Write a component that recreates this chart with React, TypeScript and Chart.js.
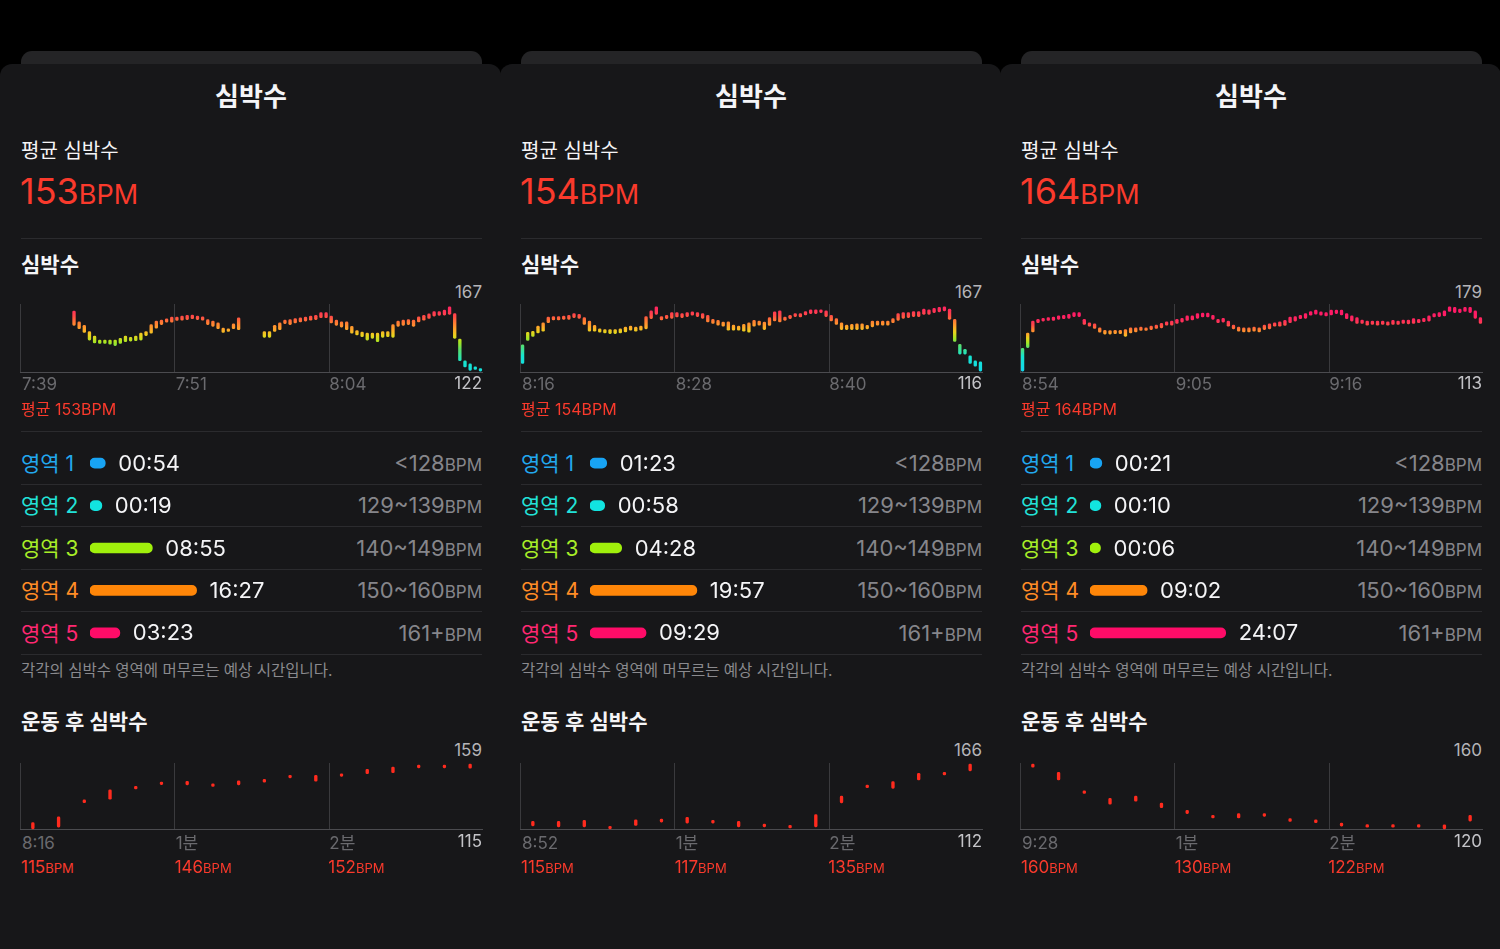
import React, { useEffect, useRef } from "react";
import { Chart, registerables } from "chart.js";

Chart.register(...registerables);

const FONT = 'Inter, "Noto Sans CJK KR", sans-serif';
const RED = "#fa3a2c";

// ---------- data ----------
const panelTitles = ["심박수", "심박수", "심박수"];
const avgBpm = [153, 154, 164];

const hrTimeLabels = [
  ["7:39", "7:51", "8:04"],
  ["8:16", "8:28", "8:40"],
  ["8:54", "9:05", "9:16"],
];
const hrMaxLabels = [167, 167, 179];
const hrMinLabels = [122, 116, 113];

type R = [number, number] | null;

const hrSeries1: R[] = [
  null, null, null, null, null, null, null, null, null, null,
  [154, 164], [151.6, 156.4], [149, 154], [143.7, 149.7], [141.7, 146.5], [141.3, 143.7], [141.3, 143.7], [140.8, 143.7], [139.8, 143.7], [141.3, 144.9],
  [142.5, 146.5], [143, 145.6], [143.2, 146.5], [143.7, 148.5], [146.8, 149.7], [148.5, 154.5], [152, 157], [154.5, 157.6], [156.2, 158.6], [156.2, 159.8],
  [157.4, 159.8], [157.6, 160.5], [158, 161], [158.6, 161.2], [158, 160.5], [157.6, 160], [154.5, 158], [153.3, 157], [151.6, 155.7], [149, 152],
  [149.7, 151.4], [151.6, 155], [150.9, 159.3],
  null, null, null, null,
  [145.6, 149.7], [145.6, 149.7], [149.7, 154], [150.9, 155.7], [155.2, 157.6], [154.5, 158], [155.7, 158.8], [156.4, 159.3], [157, 159.8], [157.6, 160.5],
  [158, 161], [159.3, 162.9], [159.3, 162.9], [155.7, 160.5], [154, 157.6], [152.8, 156.4], [150.9, 156.4], [148.5, 153.3], [147.3, 150.4], [146, 149.2],
  [143.7, 148.5], [144.9, 148.5], [142.5, 148.5], [145.6, 149.7], [146, 149.7], [145.6, 154.5], [153.3, 156.9], [154, 157.6], [154.5, 158], [153.3, 157.6],
  [156.4, 160], [157.6, 161], [158.8, 162], [160.5, 163.6], [161, 163.6], [161.2, 164.6], [161.7, 167], [144.9, 162.2], [129.2, 144.4], [124.9, 129.2],
  [122.5, 127], [123.2, 124.9], [122, 123.2],
];

const hrSeries2: R[] = [
  [122, 136.8], [140.3, 146.8], [143.5, 147.6], [146.2, 151.6], [147.6, 154.3], [154.3, 158.9], [156.5, 159.2], [156.5, 159.2], [157, 159.7], [157, 160.3],
  [158.4, 161.6], [157.8, 161], [153, 158.4], [147.6, 155.7], [147.6, 152.2], [146.8, 149.5], [146.2, 148.9], [145.7, 148.9], [145.7, 148.9], [146.2, 149.5],
  [147, 150.8], [148.4, 151.6], [147.6, 150.8], [148.4, 151.6], [149.5, 159.2], [157.6, 163.8], [161, 167], [156.5, 159.2], [157.6, 160.3], [157.8, 162.4],
  [158.9, 162.4], [158.4, 161.6], [159.2, 162.4], [160.3, 163], [159.2, 162.4], [157.8, 161.6], [154.9, 160.3], [153.8, 157], [152.4, 156.2], [151.6, 154.9],
  [148.4, 155.1], [148.4, 152.4], [148.4, 151.6], [147.6, 153], [146.8, 154.3], [151.6, 156.2], [152.4, 155.7], [148.9, 154.9], [152.2, 158.4], [155.7, 163],
  [154.9, 163.8], [156.2, 158.9], [157.6, 160.3], [159.2, 161.6], [158.9, 161.6], [160.5, 163.2], [161.6, 164.6], [161.6, 164.6], [162.4, 164.6], [159.2, 163.8],
  [155.7, 160.3], [153, 157.6], [148.9, 154.3], [148.9, 152.4], [148.9, 153], [148.9, 153.5], [148.9, 153.5], [149.5, 152.2], [151.1, 155.7], [152.4, 155.7],
  [152.4, 155.7], [152.4, 155.7], [154.3, 157.6], [156.2, 161.6], [157.8, 162.4], [158.4, 162.4], [159.2, 163.2], [159.2, 163.2], [161, 165.1], [161, 164.6],
  [162.4, 165.7], [163, 166.5], [163.8, 167], [157, 165.1], [139.5, 157], [129.5, 137.3], [129.5, 133.3], [122, 128.1], [119.8, 124.1], [116, 123.3],
];

const hrSeries3: R[] = [
  [113, 136.4], [137.1, 152.1], [153.2, 164.3], [162.6, 166.1], [164.3, 167.1], [165, 167.8], [165, 168.5], [166.1, 169.6], [166.8, 170.3], [167.1, 171.3],
  [168.9, 173], [168.9, 173], [160.8, 166.1], [159.1, 162.6], [156.7, 161.5], [152.8, 157.4], [151, 154.9], [151, 154.6], [151.4, 154.9], [151.4, 154.9],
  [148.6, 155.6], [152.1, 157.4], [153.2, 157.4], [154.6, 158.1], [154.6, 157.4], [155.6, 159.1], [156.7, 160.1], [157.4, 161.9], [160.1, 163.6], [160.1, 164.3],
  [161.9, 166.1], [163.3, 167.1], [165, 169.6], [165.4, 169.6], [167.1, 172], [168.5, 172.4], [168.5, 172.4], [166.1, 170.3], [162.6, 166.1], [163.3, 167.1],
  [159.1, 164.3], [156.3, 160.1], [153.9, 158.1], [153.2, 157.4], [153.2, 157.4], [153.9, 158.1], [153.2, 157.4], [155.6, 160.1], [156.3, 161.5], [159.1, 162.6],
  [159.1, 163.6], [159.8, 165], [162.6, 168.5], [164.3, 168.9], [166.8, 170.3], [167.1, 172], [170.3, 174.1], [171.3, 175.5], [170.3, 173.8], [169.6, 173],
  [170.6, 175.5], [172, 175.5], [170.6, 175.5], [166.8, 172], [164.3, 169.6], [161.9, 167.8], [161.9, 165.4], [160.1, 164.3], [160.8, 164.3], [160.1, 164.3],
  [160.8, 164.3], [160.1, 163.6], [160.8, 165], [160.8, 164.3], [161.9, 165.4], [161.5, 165.4], [161.9, 166.8], [162.6, 166.1], [163.6, 167.1], [164.3, 169.6],
  [168.5, 172], [168.9, 173], [169.6, 174.8], [174.1, 179], [173, 178.3], [173, 176.6], [174.1, 178.3], [173, 178.3], [167.1, 174.8], [161.9, 167.8],
];

const zoneNames = ["영역 1", "영역 2", "영역 3", "영역 4", "영역 5"];
const zoneRanges = ["<128", "129~139", "140~149", "150~160", "161+"];
const zoneTimes1 = ["00:54", "00:19", "08:55", "16:27", "03:23"];
const zoneTimes2 = ["01:23", "00:58", "04:28", "19:57", "09:29"];
const zoneTimes3 = ["00:21", "00:10", "00:06", "09:02", "24:07"];

const postTimeLabels = [
  ["8:16", "1분", "2분"],
  ["8:52", "1분", "2분"],
  ["9:28", "1분", "2분"],
];
const postMaxLabels = [159, 166, 160];
const postMinLabels = [115, 112, 120];
const postMarkers = [
  [115, 146, 152],
  [115, 117, 135],
  [160, 130, 122],
];

const postSeries1: R[] = [
  [115, 119.2], [116.2, 123.1], [132.8, 134.7], [135.1, 141.6], [142.1, 143.5], [145.1, 146.7], [144.9, 147.4], [143.9, 145.6], [144.9, 147.7],
  [146.7, 148.6], [149.7, 151.4], [147.4, 151.4], [150.7, 152.5], [152.5, 155.5], [153.2, 157.1], [156.5, 158.3], [156.5, 158.3], [156.2, 159],
];
const postSeries2: R[] = [
  [114.5, 118.2], [113.7, 118.2], [113.7, 119], [112, 114], [114.8, 119.6], [117.6, 120.2], [116.8, 121.6], [116.8, 119], [113.7, 118.2],
  [113.7, 115.9], [112.8, 114.8], [113.7, 123.8], [133.7, 139.3], [146.3, 148.6], [145.8, 151.4], [152.8, 158.4], [157, 159.2], [160.4, 166],
];
const postSeries3: R[] = [
  [158.1, 160], [150.2, 155], [141.9, 143.5], [135.2, 138.8], [137.1, 140.2], [133.1, 136], [129.4, 131.5], [126.7, 128.3], [126.7, 129.4],
  [127.7, 129.4], [124.6, 126.3], [123.8, 125.6], [121.7, 123.5], [121, 122.5], [121, 122.5], [121, 122.5], [120, 122.5], [124.8, 128.3],
];

const hrSeries = [hrSeries1, hrSeries2, hrSeries3];
const zoneTimes = [zoneTimes1, zoneTimes2, zoneTimes3];
const postSeries = [postSeries1, postSeries2, postSeries3];

// ---------- styles ----------
const hrColorStops: [number, string][] = [
  [112, "#12d6f0"],
  [128, "#16e4d0"],
  [137, "#5ade6a"],
  [142, "#a6e622"],
  [147, "#ead21e"],
  [151, "#ffa82a"],
  [156, "#ff7a34"],
  [160, "#ff4c46"],
  [165, "#ff2a5c"],
  [172, "#ff1a66"],
];
const zoneBarColors = ["#18a4f4", "#12e4e0", "#a0f00c", "#ff8608", "#ff0c68"];
const zoneTextColors = ["#22a8ee", "#22e2d8", "#a8ee28", "#ff8c26", "#ff2872"];

const toSeconds = (t: string) => {
  const [m, s] = t.split(":").map(Number);
  return m * 60 + s;
};

const thirdsGrid = {
  id: "thirdsGrid",
  beforeDatasetsDraw(chart: any) {
    const { ctx, chartArea: a, scales } = chart;
    const x = scales.x;
    const n = chart.data.labels.length;
    ctx.save();
    ctx.lineWidth = 1;
    ctx.strokeStyle = "#3a3a3d";
    [0, n / 3, (2 * n) / 3].forEach((i) => {
      const px = Math.round(x.getPixelForValue(i - 0.5)) + 0.5;
      ctx.beginPath();
      ctx.moveTo(px, a.top);
      ctx.lineTo(px, a.bottom);
      ctx.stroke();
    });
    ctx.strokeStyle = "#4b4b4f";
    ctx.beginPath();
    ctx.moveTo(a.left, a.bottom - 0.5);
    ctx.lineTo(a.right, a.bottom - 0.5);
    ctx.stroke();
    ctx.restore();
  },
};

function RangeBarChart(props: {
  data: R[];
  lo: number;
  hi: number;
  padLo: number;
  padHi: number;
  left: number;
  top: number;
  width: number;
  height: number;
  gradient: boolean;
}) {
  const ref = useRef<HTMLCanvasElement>(null);
  useEffect(() => {
    const span = props.hi - props.lo;
    const chart = new Chart(ref.current!, {
      type: "bar",
      data: {
        labels: props.data.map((_, i) => String(i)),
        datasets: [
          {
            data: props.data as any,
            backgroundColor: props.gradient
              ? (c: any) => {
                  const ch = c.chart;
                  if (!ch.chartArea) return "#ff8030";
                  const y = ch.scales.y;
                  const y0 = y.getPixelForValue(110);
                  const y1 = y.getPixelForValue(180);
                  const g = ch.ctx.createLinearGradient(0, y0, 0, y1);
                  hrColorStops.forEach(([v, col]) => g.addColorStop((v - 110) / 70, col));
                  return g;
                }
              : "#ff2b1e",
            barThickness: 2.7,
            borderRadius: 1.35,
            borderSkipped: false,
            minBarLength: 2.6,
          } as any,
        ],
      },
      options: {
        animation: false,
        responsive: false,
        devicePixelRatio: 1,
        events: [],
        layout: { padding: 0 },
        plugins: { legend: { display: false }, tooltip: { enabled: false } },
        scales: {
          x: { type: "category", display: false, offset: true },
          y: {
            type: "linear",
            display: false,
            min: props.lo - props.padLo * span,
            max: props.hi + props.padHi * span,
          },
        },
      },
      plugins: [thirdsGrid],
    });
    return () => chart.destroy();
  }, []);
  return (
    <canvas
      ref={ref}
      width={props.width}
      height={props.height}
      style={{ position: "absolute", left: props.left, top: props.top, width: props.width, height: props.height }}
    />
  );
}

const zoneTimeText = {
  id: "zoneTimeText",
  afterDatasetsDraw(chart: any) {
    const { ctx } = chart;
    const meta = chart.getDatasetMeta(0);
    const labels: string[] = chart.options.plugins.zoneTimeText.labels;
    ctx.save();
    ctx.font = `400 22px ${FONT}`;
    ctx.fillStyle = "#f5f5f7";
    ctx.textBaseline = "middle";
    ctx.textAlign = "left";
    meta.data.forEach((el: any, i: number) => {
      const end = Math.max(el.x, el.base);
      ctx.fillText(labels[i], end + 13, el.y + 1);
    });
    ctx.restore();
  },
};

function ZoneChart(props: { times: string[]; left: number; top: number }) {
  const ref = useRef<HTMLCanvasElement>(null);
  useEffect(() => {
    const secs = props.times.map(toSeconds);
    const total = secs.reduce((a, b) => a + b, 0);
    const xMin = (-total * 10) / 176;
    const chart = new Chart(ref.current!, {
      type: "bar",
      data: {
        labels: zoneNames,
        datasets: [
          {
            data: secs.map((s) => [xMin, s]) as any,
            backgroundColor: zoneBarColors,
            barThickness: 10,
            borderRadius: 5,
            borderSkipped: false,
          } as any,
        ],
      },
      options: {
        indexAxis: "y",
        animation: false,
        responsive: false,
        devicePixelRatio: 1,
        events: [],
        layout: { padding: { left: 0, right: 44, top: 0, bottom: 0 } },
        plugins: {
          legend: { display: false },
          tooltip: { enabled: false },
          zoneTimeText: { labels: props.times },
        } as any,
        scales: {
          x: { type: "linear", display: false, min: xMin, max: total },
          y: { type: "category", display: false, offset: true },
        },
      },
      plugins: [zoneTimeText],
    });
    return () => chart.destroy();
  }, []);
  return (
    <canvas
      ref={ref}
      width={230}
      height={212}
      style={{ position: "absolute", left: props.left, top: props.top, width: 230, height: 212 }}
    />
  );
}

function Txt(props: {
  x: number;
  y: number;
  size: number;
  color?: string;
  weight?: number;
  align?: "left" | "right" | "center";
  children: React.ReactNode;
}) {
  const h = Math.round(props.size * 1.4);
  const base: React.CSSProperties = {
    position: "absolute",
    top: props.y - h / 2,
    height: h,
    lineHeight: `${h}px`,
    fontSize: props.size,
    color: props.color || "#f5f5f7",
    fontWeight: props.weight || 400,
    whiteSpace: "nowrap",
    fontFamily: FONT,
  };
  if (props.align === "right") {
    return <div style={{ ...base, right: 500 - props.x, textAlign: "right" }}>{props.children}</div>;
  }
  if (props.align === "center") {
    return <div style={{ ...base, left: props.x - 200, width: 400, textAlign: "center" }}>{props.children}</div>;
  }
  return <div style={{ ...base, left: props.x }}>{props.children}</div>;
}

function Divider({ y }: { y: number }) {
  return <div style={{ position: "absolute", left: 21, width: 461, top: y, height: 1, background: "#2b2b2e" }} />;
}

const PL = 21;
const PR = 482;
const PW = PR - PL;

function Panel({ i }: { i: number }) {
  const rowY = [463, 505.5, 548, 590.5, 633];
  const gridX = [PL, PL + PW / 3, PL + (2 * PW) / 3];
  return (
    <div style={{ position: "absolute", left: 500 * i, top: 0, width: 500, height: 949 }}>
      <div style={{ position: "absolute", left: 21, top: 51, width: 461, height: 30, background: "#242426", borderRadius: 11 }} />
      <div style={{ position: "absolute", left: 0, top: 64, width: 501, height: 885, background: "#171719", borderRadius: "12px 12px 0 0" }} />

      <Txt x={251} y={97} size={26} weight={700} align="center">{panelTitles[i]}</Txt>
      <Txt x={PL} y={151} size={20}>평균 심박수</Txt>
      <Txt x={PL - 1} y={191} size={36} color={RED}>
        {avgBpm[i]}
        <span style={{ fontSize: 27 }}>BPM</span>
      </Txt>
      <Divider y={238} />
      <Txt x={PL} y={264} size={21} weight={600}>심박수</Txt>

      <Txt x={PR} y={292} size={17} color="#b4b4b8" align="right">{hrMaxLabels[i]}</Txt>
      <RangeBarChart
        data={hrSeries[i]}
        lo={hrMinLabels[i]}
        hi={hrMaxLabels[i]}
        padLo={0.03}
        padHi={0.043}
        left={20}
        top={304}
        width={463}
        height={69}
        gradient={true}
      />
      {hrTimeLabels[i].map((t, k) => (
        <Txt key={k} x={gridX[k] + 1} y={384} size={17} color="#6a6a6e">{t}</Txt>
      ))}
      <Txt x={PR} y={383} size={17} color="#c4c4c8" align="right">{hrMinLabels[i]}</Txt>
      <Txt x={PL} y={409} size={16} color={RED}>평균 {avgBpm[i]}BPM</Txt>

      <Divider y={431} />
      {zoneNames.map((z, k) => (
        <React.Fragment key={k}>
          <Txt x={PL} y={rowY[k]} size={21} color={zoneTextColors[k]}>{z}</Txt>
          <Txt x={PR} y={rowY[k]} size={22} color="#86868b" align="right">
            {zoneRanges[k]}
            <span style={{ fontSize: 17 }}>BPM</span>
          </Txt>
          <Divider y={Math.round(rowY[k] + 20.5)} />
        </React.Fragment>
      ))}
      <ZoneChart times={zoneTimes[i]} left={90} top={442} />

      <Txt x={PL} y={671} size={15.5} color="#8a8a8e">각각의 심박수 영역에 머무르는 예상 시간입니다.</Txt>
      <Txt x={PL} y={721} size={21} weight={600}>운동 후 심박수</Txt>

      <Txt x={PR} y={750} size={17} color="#b4b4b8" align="right">{postMaxLabels[i]}</Txt>
      <RangeBarChart
        data={postSeries[i]}
        lo={postMinLabels[i]}
        hi={postMaxLabels[i]}
        padLo={0.018}
        padHi={0.018}
        left={20}
        top={763}
        width={463}
        height={67}
        gradient={false}
      />
      {postTimeLabels[i].map((t, k) => (
        <Txt key={k} x={gridX[k] + 1} y={843} size={17} color="#6a6a6e">{t}</Txt>
      ))}
      <Txt x={PR} y={841} size={17} color="#c4c4c8" align="right">{postMinLabels[i]}</Txt>
      {postMarkers[i].map((v, k) => (
        <Txt key={k} x={gridX[k]} y={867} size={17} color={RED}>
          {v}
          <span style={{ fontSize: 13 }}>BPM</span>
        </Txt>
      ))}
    </div>
  );
}

export default function App() {
  return (
    <div
      style={{
        position: "absolute",
        left: 0,
        top: 0,
        width: 1500,
        height: 949,
        background: "#000",
        overflow: "hidden",
        fontFamily: FONT,
      }}
    >
      <Panel i={0} />
      <Panel i={1} />
      <Panel i={2} />
    </div>
  );
}
